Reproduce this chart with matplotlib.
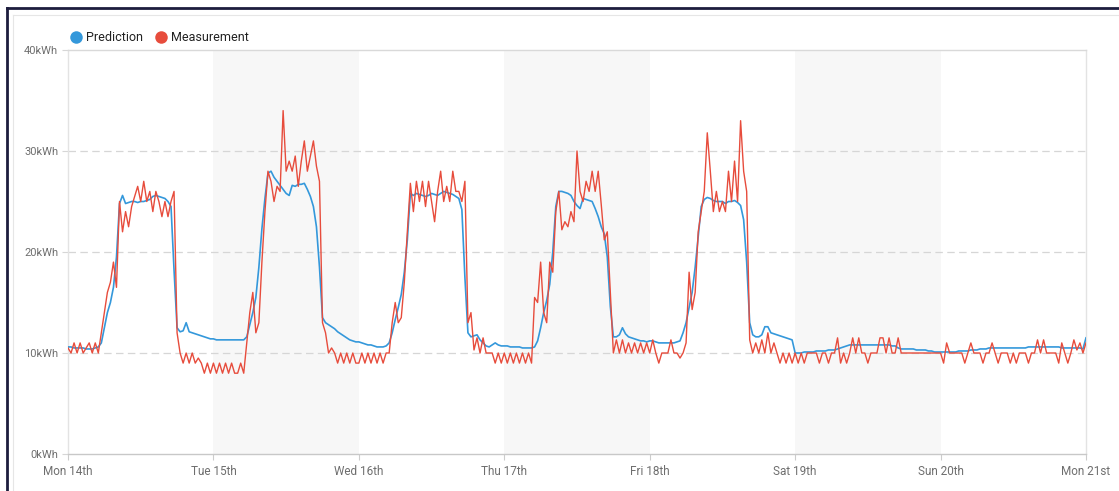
import numpy as np
import matplotlib
matplotlib.use("Agg")
import matplotlib.pyplot as plt
from matplotlib.lines import Line2D

plt.rcParams['font.family'] = ['Roboto', 'DejaVu Sans']

# ---------------- data (half-hourly, kWh) ----------------
day_labels = ['Mon 14th', 'Tue 15th', 'Wed 16th', 'Thu 17th', 'Fri 18th',
              'Sat 19th', 'Sun 20th', 'Mon 21st']
y_ticks = [0, 10, 20, 30, 40]
y_labels = ['0kWh', '10kWh', '20kWh', '30kWh', '40kWh']
series_names = ['Prediction', 'Measurement']
shaded_days = [1, 3, 5]

meas_mon = [10.5, 10, 11, 10, 11, 10, 10.5, 11, 10, 11, 10, 12, 14, 16, 17, 19,
            16.5, 25, 22, 24, 22.5, 24.5, 25.5, 26.5, 25, 27, 25, 26, 24, 26, 25, 23.5,
            25, 23.5, 25, 26, 12, 10, 9, 10, 9, 10, 9, 9.5, 9, 8, 9, 8]
meas_tue = [9, 8, 9, 8, 9, 8, 9, 8, 8, 9, 8, 11, 14, 16, 12, 13,
            19, 24, 28, 27, 25, 26.5, 26, 34, 28, 29, 28, 29.5, 26.5, 29, 31, 28,
            29.5, 31, 28.5, 27, 13, 12, 10, 10.5, 10, 9, 10, 9, 10, 9, 10, 9]
meas_wed = [9, 10, 9, 10, 9, 10, 9, 10, 9, 10, 10, 13, 15, 13, 13.5, 17,
            22, 26.8, 24, 27, 25, 27, 24.5, 27, 25, 23, 26, 28, 25, 26.5, 25, 28,
            26, 26, 25, 27, 13, 14, 10.3, 11.5, 10, 11.5, 10, 10, 10, 9, 10, 9]
meas_thu = [10, 9, 10, 9, 10, 9, 10, 9, 10, 9, 15.5, 15, 19, 14, 13, 19,
            18, 24, 26, 22.2, 23, 22.5, 24, 23, 30, 26, 25, 27, 26, 28, 26, 28,
            24.7, 21.2, 22, 16, 10, 11.3, 10, 11.3, 10, 11, 10, 11, 10, 11, 10, 11]
meas_fri = [10, 11.3, 10, 9, 10, 10, 10, 11.3, 10, 10, 9.5, 10, 11, 18, 14.3, 16,
            22, 24, 26, 31.8, 28, 24, 26, 24, 25, 24, 28, 25, 29, 25, 33, 28,
            26, 11.3, 10, 11, 10, 11.3, 10, 12, 10, 11, 10, 9, 10, 9, 10, 9]
meas_sat = [10, 9, 10, 9, 10, 10, 10, 10, 9, 10, 10, 9, 10, 10, 11.5, 9,
            10, 9, 10, 11.5, 10, 11.5, 10, 10, 9, 10, 10, 10, 11.5, 11.5, 10, 11.5,
            10, 10, 11.5, 10, 10, 10, 10, 10, 10, 10, 10, 10, 10, 10, 10, 10]
meas_sun = [10, 9, 11, 10, 10, 10, 10, 10, 9, 10, 11, 10, 10, 10, 9, 10,
            10, 11, 10, 9, 10, 10, 10, 9, 10, 9, 10, 10, 10, 9, 10, 10,
            11.3, 10, 11.3, 10, 10, 10, 10, 9, 11, 10, 9, 10, 11.3, 10.3, 11, 10]
meas_end = [11]

pred_mon = [10.6, 10.6, 10.5, 10.5, 10.5, 10.5, 10.4, 10.4, 10.4, 10.5, 10.6, 11, 12.5, 14, 15, 16.5,
            19.5, 24.8, 25.6, 24.8, 24.9, 25, 25, 24.9, 25, 25, 25.1, 25.2, 25.5, 25.6, 25.5, 25.4,
            25.3, 25, 24.5, 18.2, 12.5, 12.1, 12.2, 13, 12.1, 12, 11.9, 11.8, 11.7, 11.6, 11.5, 11.4]
pred_tue = [11.4, 11.3, 11.3, 11.3, 11.3, 11.3, 11.3, 11.3, 11.3, 11.3, 11.3, 11.6, 12.8, 14, 15.5, 18.5,
            22.3, 25.3, 27.8, 28, 27.4, 27, 26.6, 26.2, 25.8, 25.6, 26.6, 26.5, 26.7, 26.7, 26.8, 26.2,
            25.5, 24.5, 22.5, 18.5, 13.5, 13, 12.8, 12.6, 12.4, 12.1, 11.9, 11.7, 11.5, 11.3, 11.2, 11.1]
pred_wed = [11.1, 11, 10.9, 10.8, 10.8, 10.7, 10.6, 10.6, 10.6, 10.7, 11, 12, 13.3, 14.5, 15.8, 18,
            21.2, 25.8, 25.6, 25.8, 25.7, 25.6, 25.5, 25.6, 25.8, 25.7, 25.6, 25.8, 26, 25.9, 25.8, 25.7,
            25.5, 25.3, 24.2, 17.5, 12, 11.6, 11.7, 11.8, 11.3, 11, 10.7, 10.6, 10.8, 11, 10.8, 10.7]
pred_thu = [10.7, 10.7, 10.6, 10.6, 10.6, 10.6, 10.5, 10.5, 10.5, 10.5, 10.6, 11.2, 12.5, 14, 15.2, 16.8,
            20, 24.5, 26, 26, 25.9, 25.8, 25.6, 25, 24.6, 24.3, 25.3, 25.2, 25.1, 25, 24.3, 23.5,
            22.5, 21.8, 19.5, 14.6, 11.6, 11.6, 11.8, 12.5, 11.9, 11.6, 11.5, 11.4, 11.3, 11.2, 11.2, 11.1]
pred_fri = [11.2, 11.2, 11.1, 11, 11, 11, 11, 11, 11, 11.1, 11.2, 12, 13, 14.5, 16, 18.5,
            21.5, 24.5, 25.2, 25.4, 25.3, 25.1, 25, 25, 25, 24.8, 25, 25, 25.1, 24.9, 24.6, 23.2,
            19, 13, 11.8, 11.6, 11.6, 11.8, 12.6, 12.6, 12, 11.9, 11.8, 11.7, 11.6, 11.5, 11.4, 11.3]
pred_sat = [10, 10, 10, 10.1, 10.1, 10.1, 10.1, 10.2, 10.2, 10.2, 10.2, 10.3, 10.3, 10.3, 10.4, 10.5,
            10.6, 10.7, 10.8, 10.8, 10.8, 10.8, 10.8, 10.8, 10.8, 10.8, 10.8, 10.8, 10.8, 10.8, 10.8, 10.8,
            10.7, 10.7, 10.5, 10.4, 10.4, 10.4, 10.4, 10.4, 10.3, 10.3, 10.3, 10.3, 10.2, 10.2, 10.1, 10.1]
pred_sun = [10.1, 10.1, 10.1, 10.1, 10.1, 10.1, 10.2, 10.2, 10.2, 10.2, 10.3, 10.3, 10.3, 10.4, 10.4, 10.4,
            10.5, 10.5, 10.5, 10.5, 10.5, 10.5, 10.5, 10.5, 10.5, 10.5, 10.5, 10.5, 10.5, 10.6, 10.6, 10.6,
            10.6, 10.6, 10.6, 10.6, 10.6, 10.6, 10.6, 10.6, 10.5, 10.5, 10.5, 10.5, 10.5, 10.5, 10.5, 10.4]
pred_end = [11.5]

measurement = np.array(meas_mon + meas_tue + meas_wed + meas_thu + meas_fri +
                       meas_sat + meas_sun + meas_end)
prediction = np.array(pred_mon + pred_tue + pred_wed + pred_thu + pred_fri +
                      pred_sat + pred_sun + pred_end)
steps_per_day = 48
x_meas = np.arange(len(measurement)) / steps_per_day
x_pred = np.arange(len(prediction)) / steps_per_day

# ---------------- styling ----------------
BLUE = '#3498db'
RED = '#e74c3c'
W, H = 1119, 491

fig = plt.figure(figsize=(W / 100, H / 100), dpi=100)
fig.patch.set_facecolor('white')

left_px, right_px, top_px, bottom_px = 68, 1086, 50, 454
ax = fig.add_axes([left_px / W, 1 - bottom_px / H,
                   (right_px - left_px) / W, (bottom_px - top_px) / H])
ax.set_facecolor('white')

for d in shaded_days:
    ax.axvspan(d, d + 1, color='#f7f7f7', lw=0, zorder=0)

for yv in y_ticks[1:-1]:
    ax.axhline(yv, color='#d6d6d6', lw=0.9, ls=(0, (6, 3.5)), zorder=1)

ax.plot(x_pred, prediction, color=BLUE, lw=1.2, zorder=3, solid_joinstyle='round')
ax.plot(x_meas, measurement, color=RED, lw=1.0, zorder=4, solid_joinstyle='round')

ax.set_xlim(0, 7)
ax.set_ylim(0, 40)
ax.set_xticks(range(8))
ax.set_xticklabels(day_labels)
ax.set_yticks(y_ticks)
ax.set_yticklabels(y_labels)

ax.tick_params(axis='x', length=4, color='#cccccc', pad=4, labelsize=8.5,
               labelcolor='#6e6e6e')
ax.tick_params(axis='y', length=4, color='#d6d6d6', pad=3, labelsize=8,
               labelcolor='#6e6e6e')

ax.spines['top'].set_color('#d9d9d9')
ax.spines['left'].set_color('#e3e3e3')
ax.spines['right'].set_color('#e3e3e3')
ax.spines['bottom'].set_color('#c8c8c8')
for s in ax.spines.values():
    s.set_linewidth(1.0)

# ---------------- legend (manual) ----------------
def fx(px):
    return px / W

def fy(py):
    return 1 - py / H

colors = [BLUE, RED]
dot_x = [76, 161]
text_x = [86, 171]
for name, c, dx, tx in zip(series_names, colors, dot_x, text_x):
    fig.add_artist(Line2D([fx(dx)], [fy(37)], marker='o', markersize=9,
                          color=c, markeredgewidth=0, transform=fig.transFigure))
    fig.text(fx(tx), fy(37.5), name, fontsize=9, color='#222222',
             va='center', ha='left')

# ---------------- outer frame ----------------
fig.add_artist(Line2D([fx(12.5), fx(12.5)], [0, fy(15)], color='#e6e6e6', lw=0.8,
                      transform=fig.transFigure))
fig.add_artist(Line2D([fx(12.5), 1], [fy(15), fy(15)], color='#e6e6e6', lw=0.8,
                      transform=fig.transFigure))
fig.add_artist(Line2D([fx(6.5), fx(6.5)], [0, fy(8)], color='#1d1d3d', lw=2.0,
                      transform=fig.transFigure, solid_capstyle='projecting'))
fig.add_artist(Line2D([fx(6.5), 1], [fy(8), fy(8)], color='#1d1d3d', lw=2.0,
                      transform=fig.transFigure, solid_capstyle='projecting'))

fig.savefig('out.png', dpi=100, facecolor='white')
